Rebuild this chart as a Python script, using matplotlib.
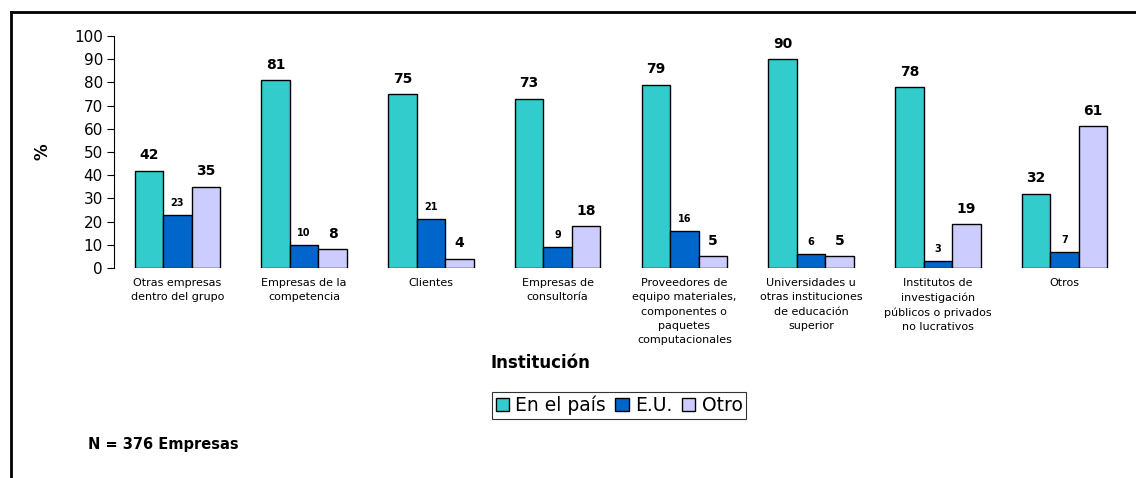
import numpy as np
import matplotlib.pyplot as plt

plt.rcParams['font.family'] = ['DejaVu Sans']

categorias = [
    "Otras empresas\ndentro del grupo",
    "Empresas de la\ncompetencia",
    "Clientes",
    "Empresas de\nconsultoría",
    "Proveedores de\nequipo materiales,\ncomponentes o\npaquetes\ncomputacionales",
    "Universidades u\notras instituciones\nde educación\nsuperior",
    "Institutos de\ninvestigación\npúblicos o privados\nno lucrativos",
    "Otros",
]
en_el_pais = [42, 81, 75, 73, 79, 90, 78, 32]
eu = [23, 10, 21, 9, 16, 6, 3, 7]
otro = [35, 8, 4, 18, 5, 5, 19, 61]

colores = ['#33CCCC', '#0066CC', '#CCCCFF']

fig = plt.figure(figsize=(11.36, 4.78), dpi=100)
ax = fig.add_axes([0.1004, 0.4393, 0.8926, 0.4854])

x = np.arange(len(categorias))
w = 0.225

b1 = ax.bar(x - w, en_el_pais, w, color=colores[0], edgecolor='black', linewidth=1, label='En el país')
b2 = ax.bar(x, eu, w, color=colores[1], edgecolor='black', linewidth=1, label='E.U.')
b3 = ax.bar(x + w, otro, w, color=colores[2], edgecolor='black', linewidth=1, label='Otro')

def etiquetas(barras, size, dy):
    for r in barras:
        h = r.get_height()
        ax.annotate('{}'.format(h), xy=(r.get_x() + r.get_width() / 2, h),
                    xytext=(0, dy), textcoords='offset points',
                    ha='center', va='bottom', fontsize=size, fontweight='bold')

etiquetas(b1, 10, 6)
etiquetas(b2, 7, 5)
etiquetas(b3, 10, 6)

ax.set_xlim(-0.5, 7.5)
ax.set_ylim(0, 100)
ax.set_yticks(range(0, 101, 10))
ax.tick_params(axis='y', labelsize=11, length=5, direction='out', pad=3)
ax.tick_params(axis='x', length=0, labelsize=8, pad=7)
ax.set_xticks(x)
ax.set_xticklabels(categorias, linespacing=1.55)
for s in ['top', 'right', 'bottom']:
    ax.spines[s].set_visible(False)

fig.text(43 / 1136, 1 - 152 / 478, '%', rotation=90, fontsize=12, fontweight='bold',
         ha='center', va='center')
fig.text(540 / 1136, 1 - 363 / 478, 'Institución', fontsize=12, fontweight='bold',
         ha='center', va='center')
fig.text(88 / 1136, 1 - 445 / 478, 'N = 376 Empresas', fontsize=10.5, fontweight='bold',
         ha='left', va='center')

leg = fig.legend(handles=[b1, b2, b3], loc='center', bbox_to_anchor=(619 / 1136, 1 - 405 / 478),
                 ncol=3, fontsize=13.5, frameon=True, fancybox=False, edgecolor='black',
                 handlelength=0.7, handleheight=0.7, handletextpad=0.35, columnspacing=0.5,
                 borderpad=0.2, borderaxespad=0)
leg.get_frame().set_linewidth(0.8)

# marco de la figura (solo izquierda y arriba)
fig.add_artist(plt.Line2D([10.5 / 1136, 10.5 / 1136], [0, 1 - 12 / 478], color='black', linewidth=2))
fig.add_artist(plt.Line2D([10.5 / 1136, 1], [1 - 12 / 478, 1 - 12 / 478], color='black', linewidth=2))

fig.savefig('out.png', dpi=100)
